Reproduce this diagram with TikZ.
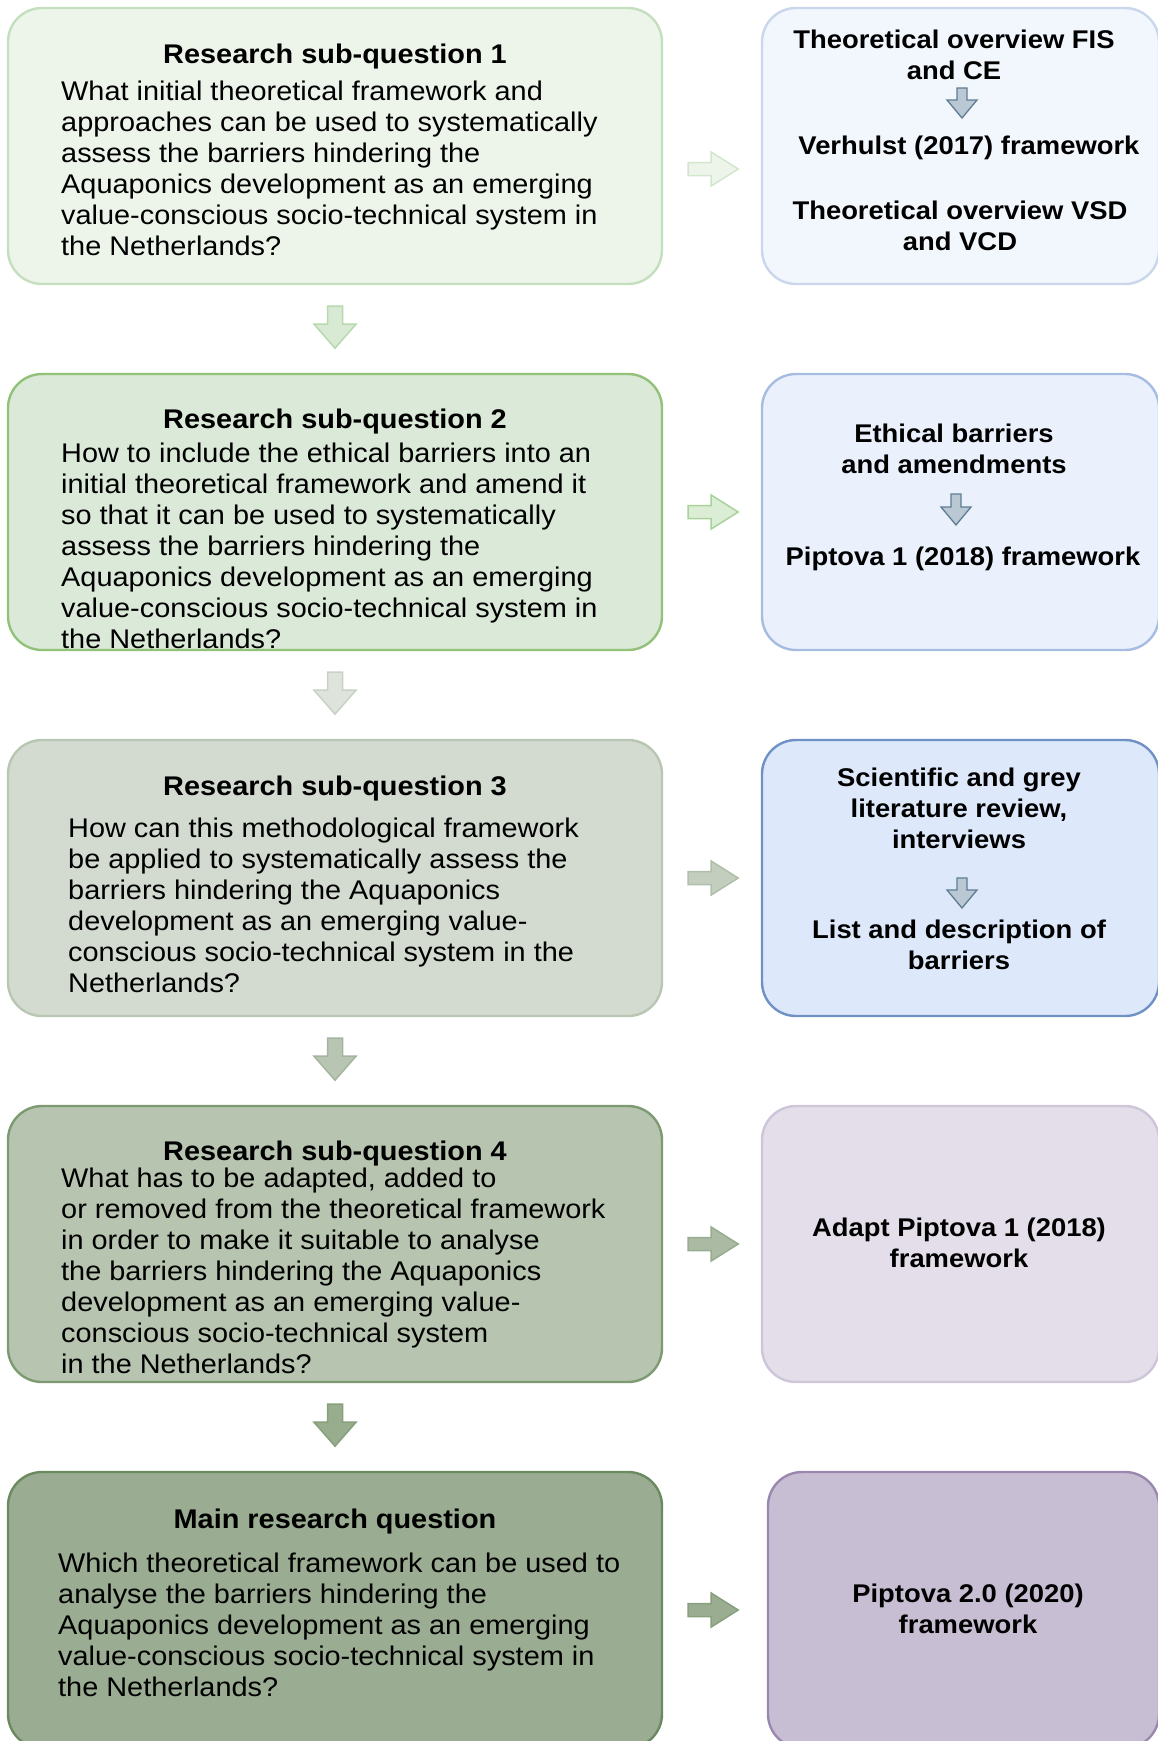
\documentclass[tikz,border=0pt]{standalone}
\usepackage{fontspec}
\setmainfont[FakeStretch=1.07]{Liberation Sans}
\usetikzlibrary{calc}

% box colours, light to dark down the page
\definecolor{lfillA}{HTML}{EDF5EB}\definecolor{ldrawA}{HTML}{C4DFBE}
\definecolor{lfillB}{HTML}{DAE9D8}\definecolor{ldrawB}{HTML}{92C27A}
\definecolor{lfillC}{HTML}{D3DBD0}\definecolor{ldrawC}{HTML}{B9C6B4}
\definecolor{lfillD}{HTML}{B7C4AF}\definecolor{ldrawD}{HTML}{7E9A73}
\definecolor{lfillE}{HTML}{9AAC91}\definecolor{ldrawE}{HTML}{6B8A60}
\definecolor{rfillA}{HTML}{F2F6FD}\definecolor{rdrawA}{HTML}{C9D6EC}
\definecolor{rfillB}{HTML}{EAF1FC}\definecolor{rdrawB}{HTML}{A6BCE0}
\definecolor{rfillC}{HTML}{DDE8FA}\definecolor{rdrawC}{HTML}{6F91C4}
\definecolor{rfillD}{HTML}{E3DEE9}\definecolor{rdrawD}{HTML}{CDC6D8}
\definecolor{rfillE}{HTML}{C8BED3}\definecolor{rdrawE}{HTML}{9A88AE}
% block arrow colours
\definecolor{afillA}{HTML}{EDF5EB}\definecolor{adrawA}{HTML}{D2E6CC}
\definecolor{afillB}{HTML}{DCEDD6}\definecolor{adrawB}{HTML}{A9D19A}
\definecolor{afillC}{HTML}{C3CEBE}\definecolor{adrawC}{HTML}{B0BEAA}
\definecolor{afillD}{HTML}{ABBBA3}\definecolor{adrawD}{HTML}{98AC8F}
\definecolor{afillE}{HTML}{9AAD91}\definecolor{adrawE}{HTML}{87A07E}
\definecolor{dfillA}{HTML}{D8EAD3}\definecolor{ddrawA}{HTML}{B8D8AE}
\definecolor{dfillB}{HTML}{DEE4DB}\definecolor{ddrawB}{HTML}{C8D2C4}
\definecolor{dfillC}{HTML}{B8C5B3}\definecolor{ddrawC}{HTML}{A4B49E}
\definecolor{dfillD}{HTML}{98AD8E}\definecolor{ddrawD}{HTML}{86A07B}
\definecolor{sfill}{HTML}{BAC8D3}\definecolor{sdraw}{HTML}{5E7C93}

% fixes the height of the first line so nodes can be placed by baseline
\newcommand{\capline}{\rule{0pt}{22pt}}

\tikzset{
  lbox/.style={draw, rounded corners=34pt, line width=2.4pt,
    minimum width=654pt, minimum height=276pt, inner sep=0pt},
  rbox/.style={draw, rounded corners=34pt, line width=2.4pt,
    minimum width=397pt, minimum height=276pt, inner sep=0pt},
  ttl/.style={inner sep=0pt, anchor=north, font=\fontsize{27}{31}\selectfont\bfseries},
  body/.style={inner sep=0pt, anchor=north west, align=left, font=\fontsize{27}{31}\selectfont},
  rtxt/.style={inner sep=0pt, anchor=north, align=center, font=\fontsize{25.6}{31}\selectfont\bfseries},
  % block arrow pointing down: total length, shaft width, head width, head length
  pics/downarr/.style n args={4}{code={
    \path[pic actions] (-#2/2,0) -- (#2/2,0) -- (#2/2,#1-#4) -- (#3/2,#1-#4)
      -- (0,#1) -- (-#3/2,#1-#4) -- (-#2/2,#1-#4) -- cycle;
  }},
  % block arrow pointing right
  pics/rightarr/.style n args={4}{code={
    \path[pic actions] (0,-#2/2) -- (#1-#4,-#2/2) -- (#1-#4,-#3/2) -- (#1,0)
      -- (#1-#4,#3/2) -- (#1-#4,#2/2) -- (0,#2/2) -- cycle;
  }},
  bigdown/.style={line width=1.5pt},
  smalldown/.style={line width=1.3pt, fill=sfill, draw=sdraw},
}

\begin{document}
\begin{tikzpicture}[x=1pt, y=-1pt]
\useasboundingbox (0,0) rectangle (1158,1741);
\clip (0,0) rectangle (1158,1741);

% ---------- question boxes ----------
\node[lbox, fill=lfillA, draw=ldrawA] (q1) at (335,146) {};
\node[lbox, fill=lfillB, draw=ldrawB] (q2) at (335,512) {};
\node[lbox, fill=lfillC, draw=ldrawC] (q3) at (335,878) {};
\node[lbox, fill=lfillD, draw=ldrawD] (q4) at (335,1244) {};
\node[lbox, fill=lfillE, draw=ldrawE] (q5) at (335,1610) {};

% ---------- outcome boxes ----------
\node[rbox, fill=rfillA, draw=rdrawA] (r1) at (960.5,146) {};
\node[rbox, fill=rfillB, draw=rdrawB] (r2) at (960.5,512) {};
\node[rbox, fill=rfillC, draw=rdrawC] (r3) at (960.5,878) {};
\node[rbox, fill=rfillD, draw=rdrawD] (r4) at (960.5,1244) {};
\node[rbox, fill=rfillE, draw=rdrawE, minimum width=391pt] (r5) at (963.5,1610) {};

% ---------- question texts ----------
\node[ttl] (q1t) at (335,41) {\capline Research sub-question 1};
\node[body] (q1b) at (61,78) {\capline What initial theoretical framework and\\
approaches can be used to systematically\\
assess the barriers hindering the\\
Aquaponics development as an emerging\\
value-conscious socio-technical system in\\
the Netherlands?};

\node[ttl] (q2t) at (335,406) {\capline Research sub-question 2};
\node[body] (q2b) at (61,440) {\capline How to include the ethical barriers into an\\
initial theoretical framework and amend it\\
so that it can be used to systematically\\
assess the barriers hindering the\\
Aquaponics development as an emerging\\
value-conscious socio-technical system in\\
the Netherlands?};

\node[ttl] (q3t) at (335,773) {\capline Research sub-question 3};
\node[body] (q3b) at (68,815) {\capline How can this methodological framework\\
be applied to systematically assess the\\
barriers hindering the Aquaponics\\
development as an emerging value-\\
conscious socio-technical system in the\\
Netherlands?};

\node[ttl] (q4t) at (335,1138) {\capline Research sub-question 4};
\node[body] (q4b) at (61,1165) {\capline What has to be adapted, added to\\
or removed from the theoretical framework\\
in order to make it suitable to analyse\\
the barriers hindering the Aquaponics\\
development as an emerging value-\\
conscious socio-technical system\\
in the Netherlands?};

\node[ttl] (q5t) at (335,1506) {\capline Main research question};
\node[body] (q5b) at (58,1550) {\capline Which theoretical framework can be used to\\
analyse the barriers hindering the\\
Aquaponics development as an emerging\\
value-conscious socio-technical system in\\
the Netherlands?};

% ---------- outcome texts ----------
\node[rtxt] (r1a) at (954,26) {\capline Theoretical overview FIS\\and CE};
\node[rtxt] (r1b) at (969,132) {\capline Verhulst (2017) framework};
\node[rtxt] (r1c) at (960,197) {\capline Theoretical overview VSD\\and VCD};
\node[rtxt] (r2a) at (954,420) {\capline Ethical barriers\\and amendments};
\node[rtxt] (r2b) at (963,543) {\capline Piptova 1 (2018) framework};
\node[rtxt] (r3a) at (959,764) {\capline Scientific and grey\\literature review,\\interviews};
\node[rtxt] (r3b) at (959,916) {\capline List and description of\\barriers};
\node[rtxt] (r4a) at (959,1214) {\capline Adapt Piptova 1 (2018)\\framework};
\node[rtxt] (r5a) at (968,1580) {\capline Piptova 2.0 (2020)\\framework};

% ---------- arrows between questions ----------
\pic[bigdown, fill=dfillA, draw=ddrawA] at ($(q1.south)+(0,21)$) {downarr={42}{15}{42}{24}};
\pic[bigdown, fill=dfillB, draw=ddrawB] at ($(q2.south)+(0,21)$) {downarr={42}{15}{42}{24}};
\pic[bigdown, fill=dfillC, draw=ddrawC] at ($(q3.south)+(0,21)$) {downarr={42}{15}{42}{24}};
\pic[bigdown, fill=dfillD, draw=ddrawD] at ($(q4.south)+(0,21)$) {downarr={42}{15}{42}{24}};

% ---------- arrows from questions to outcomes ----------
\pic[bigdown, fill=afillA, draw=adrawA] at ($(q1.east)+(25,23)$) {rightarr={50}{13}{34}{27}};
\pic[bigdown, fill=afillB, draw=adrawB] at ($(q2.east)+(25,0)$) {rightarr={50}{13}{34}{27}};
\pic[bigdown, fill=afillC, draw=adrawC] at ($(q3.east)+(25,0)$) {rightarr={50}{13}{34}{27}};
\pic[bigdown, fill=afillD, draw=adrawD] at ($(q4.east)+(25,0)$) {rightarr={50}{13}{34}{27}};
\pic[bigdown, fill=afillE, draw=adrawE] at ($(q5.east)+(25,0)$) {rightarr={50}{13}{34}{27}};

% ---------- small arrows inside the outcome boxes ----------
\pic[smalldown] at (962,88) {downarr={30}{10}{30}{18}};
\pic[smalldown] at (956,494) {downarr={31}{10}{30}{18}};
\pic[smalldown] at (962,878) {downarr={30}{10}{30}{18}};
\end{tikzpicture}
\end{document}
